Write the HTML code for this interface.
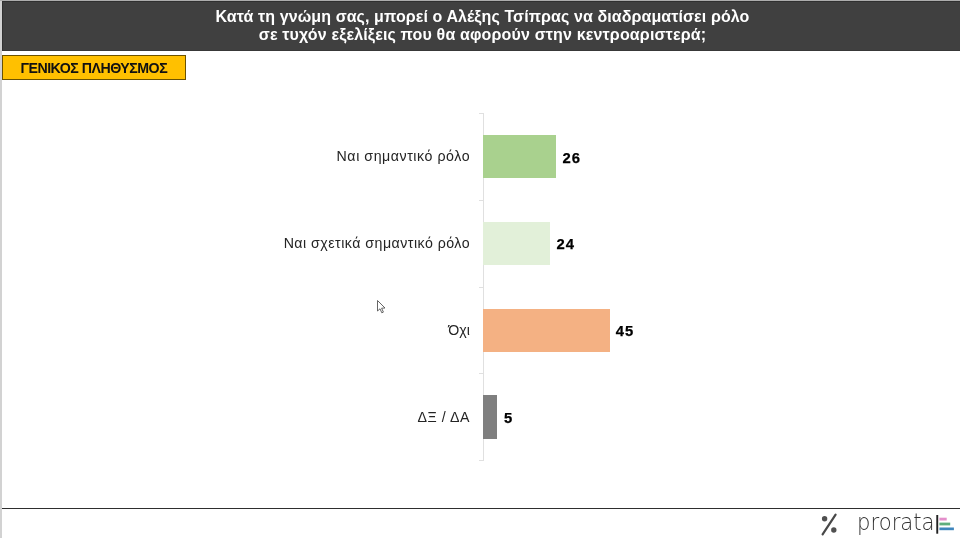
<!DOCTYPE html>
<html lang="el">
<head>
<meta charset="utf-8">
<title>prorata</title>
<style>
html,body{margin:0;padding:0;}
body{width:960px;height:538px;position:relative;overflow:hidden;background:#fff;font-family:"Liberation Sans",sans-serif;}
.abs{position:absolute;}
#lstrip{left:0;top:0;width:2px;height:538px;background:#d2d2d2;}
#tstrip{left:0;top:0;width:960px;height:1px;background:#adadad;}
#hdr{left:2px;top:1px;width:958px;height:49.5px;background:#404040;box-sizing:border-box;border-top:1px solid #303030;border-left:1px solid #303030;border-bottom:1px solid #383838;}
#title{left:2px;top:7.9px;width:961px;text-align:center;color:#fff;font-weight:bold;font-size:16px;letter-spacing:0.1px;line-height:17.7px;white-space:nowrap;}
#tag{left:2px;top:55px;width:184px;height:24.5px;box-sizing:border-box;background:#ffc000;border:1px solid #6b5200;}
#tagt{transform:translateY(0.7px);left:1.8px;top:55px;width:184px;height:24.5px;line-height:25.6px;text-align:center;font-weight:bold;font-size:14.2px;letter-spacing:-0.5px;color:#111;white-space:nowrap;}
#axis{left:483px;top:113px;width:1px;height:347.5px;background:#e0e0e0;}
.tick{left:478.5px;width:5.5px;height:1px;background:#e0e0e0;}
.bar{left:483.4px;height:43.2px;}
.lab{right:489.9px;font-size:14.2px;letter-spacing:0.55px;color:#242424;white-space:nowrap;line-height:16px;height:16px;}
.val{font-size:14.8px;letter-spacing:0.9px;font-weight:bold;color:#000;-webkit-text-stroke:0.25px #000;white-space:nowrap;line-height:16px;height:16px;}
#fline{left:2px;top:507.7px;width:958px;height:1.45px;background:#2e2e2e;}
#brand{left:857px;top:506.6px;font-family:"DejaVu Sans Light","DejaVu Sans","Liberation Sans",sans-serif;font-weight:200;font-size:23.4px;line-height:30px;color:#333;white-space:nowrap;transform-origin:0 0;transform:scaleX(0.905);}
</style>
</head>
<body>
<div class="abs" id="lstrip"></div>
<div class="abs" id="tstrip"></div>
<div class="abs" id="hdr"></div>
<div class="abs" id="title"><span id="t1">Κατά τη γνώμη σας, μπορεί ο Αλέξης Τσίπρας να διαδραματίσει ρόλο</span><br><span id="t2" style="letter-spacing:0.16px">σε τυχόν εξελίξεις που θα αφορούν στην κεντροαριστερά;</span></div>
<div class="abs" id="tag"></div>
<div class="abs" id="tagt"><span id="tg">ΓΕΝΙΚΟΣ ΠΛΗΘΥΣΜΟΣ</span></div>

<div class="abs" id="axis"></div>
<div class="abs tick" style="top:113px"></div>
<div class="abs tick" style="top:199.8px"></div>
<div class="abs tick" style="top:286.6px"></div>
<div class="abs tick" style="top:373.4px"></div>
<div class="abs tick" style="top:460px"></div>

<div class="abs bar" id="b1" style="top:135px;width:72.8px;background:#a9d18e;"></div>
<div class="abs bar" id="b2" style="top:221.8px;width:67px;background:#e2f0d9;"></div>
<div class="abs bar" id="b3" style="top:308.6px;width:126.2px;background:#f4b183;"></div>
<div class="abs bar" id="b4" style="top:395.4px;width:13.7px;background:#7f7f7f;"></div>

<div class="abs lab" style="top:148px"><span id="l1">Ναι σημαντικό ρόλο</span></div>
<div class="abs lab" style="top:235px"><span id="l2" style="letter-spacing:0.48px">Ναι σχετικά σημαντικό ρόλο</span></div>
<div class="abs lab" style="top:322px"><span id="l3" style="letter-spacing:0.1px">Όχι</span></div>
<div class="abs lab" style="top:409px"><span id="l4">ΔΞ / ΔΑ</span></div>

<div class="abs val" style="left:562.5px;top:150px"><span id="v1">26</span></div>
<div class="abs val" style="left:556.5px;top:236px"><span id="v2">24</span></div>
<div class="abs val" style="left:615.8px;top:323px"><span id="v3">45</span></div>
<div class="abs val" style="left:504px;top:410px"><span id="v4">5</span></div>

<div class="abs" id="fline"></div>
<svg class="abs" style="left:815px;top:510px" width="30" height="28" viewBox="815 510 30 28">
  <line x1="822.6" y1="534.4" x2="835.6" y2="514.6" stroke="#484848" stroke-width="2.2" stroke-linecap="round"/>
  <circle cx="824.6" cy="518.8" r="2.7" fill="#505050"/>
  <circle cx="833.8" cy="530" r="2.7" fill="#505050"/>
</svg>
<div class="abs" id="brand"><span id="br">prorata</span></div>
<svg class="abs" style="left:934px;top:512px" width="26" height="26" viewBox="934 512 26 26">
  <rect x="936.3" y="515" width="1.9" height="18.7" fill="#222"/>
  <rect x="939.4" y="517.7" width="7.3" height="2.8" fill="#e48fcb"/>
  <rect x="939.4" y="522.6" width="10.8" height="2.8" fill="#5fae7d"/>
  <rect x="939.4" y="527.5" width="14.5" height="2.7" fill="#3f86bd"/>
</svg>
<svg class="abs" style="left:376px;top:299px" width="12" height="16" viewBox="0 0 12 16">
  <path d="M1.5 1.5 L1.5 12 L4 9.8 L5.8 13.8 L7.4 13.1 L5.6 9.2 L9 9 Z" fill="#fff" stroke="#555" stroke-width="0.9" stroke-linejoin="round"/>
</svg>
</body>
</html>
